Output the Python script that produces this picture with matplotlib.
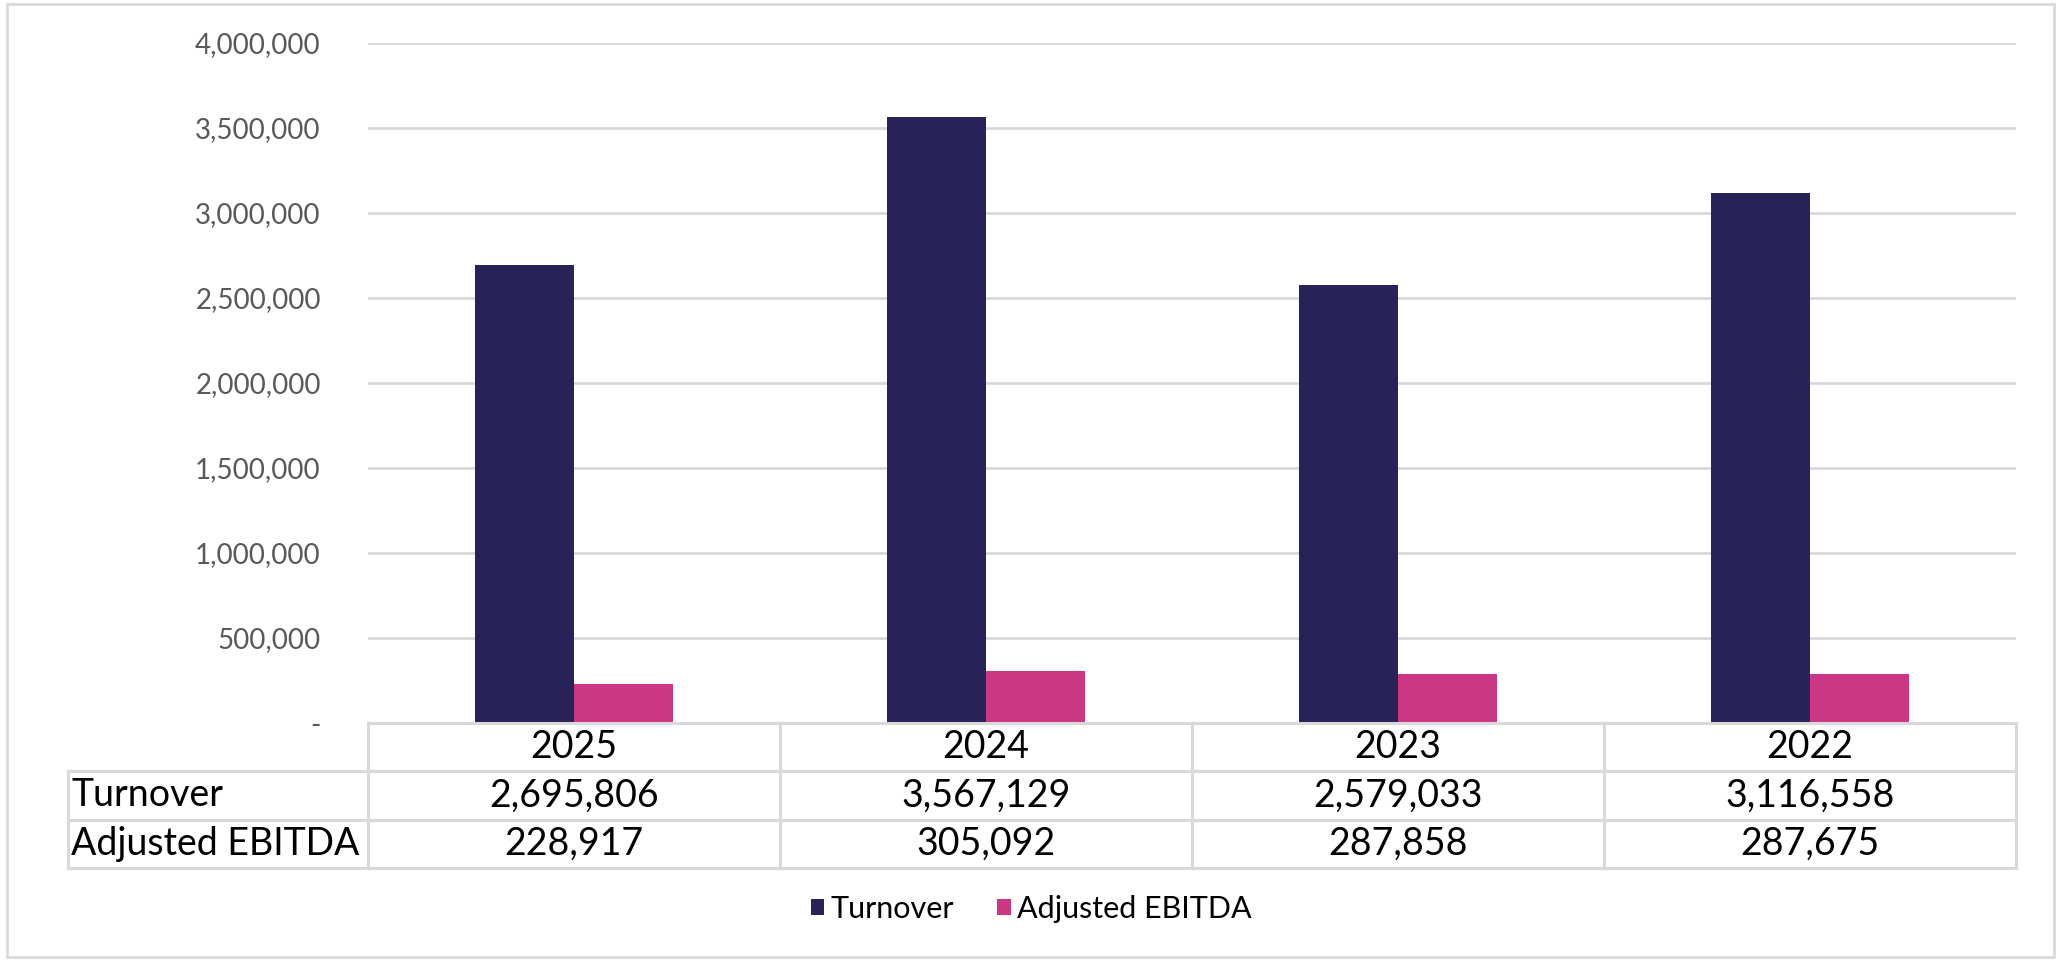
import matplotlib.pyplot as plt
from matplotlib.patches import Rectangle

# Dados
years = ['2025', '2024', '2023', '2022']
turnover = [2695806, 3567129, 2579033, 3116558]
ebitda = [228917, 305092, 287858, 287675]
series_names = ['Turnover', 'Adjusted EBITDA']
yticks = [0, 500000, 1000000, 1500000, 2000000, 2500000, 3000000, 3500000, 4000000]

navy = '#272358'
pink = '#cc3784'
grid_c = '#d9d9d9'

plt.rcParams['font.family'] = ['Lato', 'DejaVu Sans']

W, H = 2062, 966
fig = plt.figure(figsize=(W / 100, H / 100), dpi=100)

# eixo principal (barras)
x0, x1, ytop, yzero = 368, 2016, 43, 723
ax = fig.add_axes([x0 / W, 1 - yzero / H, (x1 - x0) / W, (yzero - ytop) / H])
pos = range(len(years))
bw = 0.24
ax.bar([p - bw / 2 for p in pos], turnover, bw, color=navy, label=series_names[0], zorder=3)
ax.bar([p + bw / 2 for p in pos], ebitda, bw, color=pink, label=series_names[1], zorder=3)
ax.set_xlim(-0.5, len(years) - 0.5)
ax.set_ylim(0, 4000000)
ax.set_yticks(yticks)
ax.set_yticklabels(['-' if v == 0 else f'{v:,}' for v in yticks], fontsize=20, color='#595959')
ax.set_xticks([])
ax.tick_params(axis='y', length=0, pad=34)
ax.yaxis.grid(True, color=grid_c, linewidth=2, zorder=0)
for s in ax.spines.values():
    s.set_visible(False)

# tabela de dados
tx0, tbot = 68, 868
lab_w = (x0 - tx0) / ((x1 - x0) / len(years))
tax = fig.add_axes([tx0 / W, 1 - tbot / H, (x1 - tx0) / W, (tbot - yzero) / H])
tax.set_xlim(-0.5 - lab_w, len(years) - 0.5)
tax.set_ylim(3, 0)
tax.axis('off')
lw = 2.2
tax.plot([-0.5, len(years) - 0.5], [0, 0], color=grid_c, lw=lw, clip_on=False)
for r in (1, 2, 3):
    tax.plot([-0.5 - lab_w, len(years) - 0.5], [r, r], color=grid_c, lw=lw, clip_on=False)
for i in range(len(years) + 1):
    tax.plot([i - 0.5, i - 0.5], [0, 3], color=grid_c, lw=lw, clip_on=False)
tax.plot([-0.5 - lab_w, -0.5 - lab_w], [1, 3], color=grid_c, lw=lw, clip_on=False)

fs = 27
for i, yr in enumerate(years):
    tax.text(i, 0.5, yr, ha='center', va='center', fontsize=fs, color='black')
    tax.text(i, 1.5, f'{turnover[i]:,}', ha='center', va='center', fontsize=fs, color='black')
    tax.text(i, 2.5, f'{ebitda[i]:,}', ha='center', va='center', fontsize=fs, color='black')
tax.text(-0.5 - lab_w + 0.008, 1.5, series_names[0], ha='left', va='center', fontsize=fs, color='black')
tax.text(-0.5 - lab_w + 0.008, 2.5, series_names[1], ha='left', va='center', fontsize=fs, color='black')

# legenda
fig.legend(loc='center', bbox_to_anchor=(0.5, 1 - 909 / H), ncol=2, frameon=False,
           fontsize=22, handlelength=0.45, handleheight=0.45, handletextpad=0.2,
           columnspacing=1.4)

# moldura externa
fig.patches.append(Rectangle((7 / W, 1 - 957 / H), (2054 - 7) / W, (957 - 4) / H,
                             transform=fig.transFigure, fill=False,
                             edgecolor=grid_c, linewidth=2))

fig.savefig('out.png', dpi=100)
